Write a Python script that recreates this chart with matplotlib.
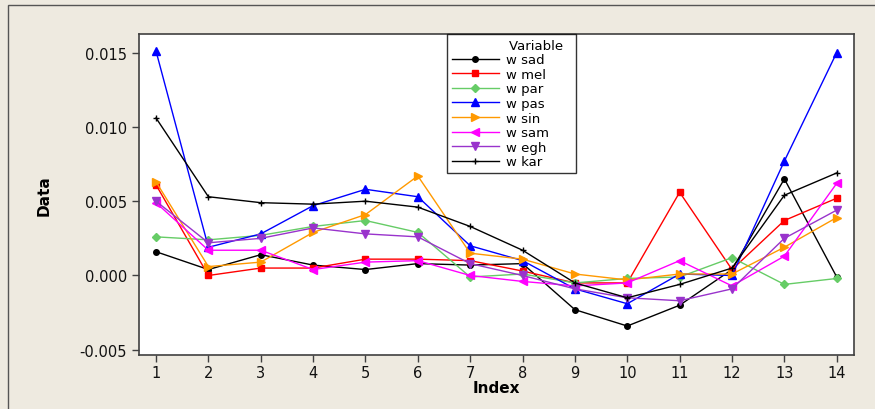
import numpy as np
import matplotlib
matplotlib.use("Agg")
import matplotlib.pyplot as plt
from matplotlib.patches import Rectangle

# ==============================
# DATA
# ==============================
index = list(range(1, 15))

w_sad = [0.0016, 0.0004, 0.0014, 0.0007, 0.0004, 0.0008, 0.0007,
         0.0008, -0.0023, -0.0034, -0.0020, 0.0004, 0.0065, -0.0001]
w_mel = [0.0061, 0.0000, 0.0005, 0.0005, 0.0011, 0.0011, 0.0010,
         0.0003, -0.0005, -0.0005, 0.0056, 0.0004, 0.0037, 0.0052]
w_par = [0.0026, 0.0024, 0.0027, 0.0033, 0.0037, 0.0029, -0.0001,
         0.0001, -0.0005, -0.0002, -0.0001, 0.0012, -0.0006, -0.0002]
w_pas = [0.0151, 0.0019, 0.0028, 0.0047, 0.0058, 0.0053, 0.0020,
         0.0010, -0.0009, -0.0019, 0.0001, 0.0000, 0.0077, 0.0150]
w_sin = [0.0063, 0.0006, 0.0009, 0.0029, 0.0041, 0.0067, 0.0015,
         0.0011, 0.0001, -0.0003, 0.0001, 0.0001, 0.0019, 0.0039]
w_sam = [0.0049, 0.0017, 0.0017, 0.0004, 0.0009, 0.0010, 0.0000,
         -0.0004, -0.0007, -0.0005, 0.0010, -0.0007, 0.0013, 0.0062]
w_egh = [0.0050, 0.0022, 0.0025, 0.0032, 0.0028, 0.0026, 0.0008,
         0.0000, -0.0009, -0.0015, -0.0017, -0.0009, 0.0025, 0.0044]
w_kar = [0.0106, 0.0053, 0.0049, 0.0048, 0.0050, 0.0046, 0.0033,
         0.0017, -0.0005, -0.0015, -0.0006, 0.0005, 0.0054, 0.0069]

series_names = ["w sad", "w mel", "w par", "w pas", "w sin", "w sam", "w egh", "w kar"]
series_data = [w_sad, w_mel, w_par, w_pas, w_sin, w_sam, w_egh, w_kar]

# style per series: (line colour, marker, marker size)
styles = [
    ("#000000", "o", 4),
    ("#FF0000", "s", 5),
    ("#66CC66", "D", 4),
    ("#0000FF", "^", 6),
    ("#FF9900", ">", 6),
    ("#FF00FF", "<", 6),
    ("#9933CC", "v", 6),
    ("#000000", "+", 5),
]

bg = "#EEEAE0"

# ==============================
# PLOT
# ==============================
plt.rcParams["font.family"] = "DejaVu Sans"

fig = plt.figure(figsize=(8.75, 4.1), dpi=100, facecolor=bg)
ax = fig.add_axes([139 / 875, 1 - 356 / 410, (854 - 139) / 875, (356 - 35) / 410])
ax.set_facecolor("white")

# thin frame line on the left and top of the graph region
fig.patches.append(Rectangle((8 / 875, -0.5), 2.0, 1.5 - 6 / 410,
                             transform=fig.transFigure, fill=False,
                             edgecolor="#555555", linewidth=1.0))

for name, vals, (col, mk, ms) in zip(series_names, series_data, styles):
    ax.plot(index, vals, color=col, linewidth=1.0, marker=mk, markersize=ms,
            markerfacecolor=col, markeredgecolor=col, label=name)

ax.set_xlim(0.675, 14.33)
ax.set_ylim(-0.00535, 0.01625)
ax.set_xticks(index)
ax.set_yticks([-0.005, 0.0, 0.005, 0.010, 0.015])
ax.set_yticklabels(["-0.005", "0.000", "0.005", "0.010", "0.015"])

for sp in ax.spines.values():
    sp.set_color("#404040")
    sp.set_linewidth(1.2)
ax.tick_params(direction="out", length=5, width=1, color="#404040",
               labelsize=10.5, labelcolor="#111111")
ax.tick_params(axis="x", pad=2)

ax.set_xlabel("Index", fontsize=11, fontweight="bold", labelpad=0)
ax.set_ylabel("Data", fontsize=11, fontweight="bold", labelpad=20)

# legend box spanning a fixed width, title pushed to the right
leg_x0, leg_top, leg_w = 447 / 875, 1 - 35 / 410, 129 / 875
leg = ax.legend(title="Variable  ", loc="upper left",
                bbox_to_anchor=(leg_x0, leg_top - 0.01, leg_w, 0.01),
                bbox_transform=fig.transFigure, mode="expand",
                fontsize=9.5, title_fontsize=9.5, frameon=True, fancybox=False,
                edgecolor="black", handlelength=3.6, handletextpad=0.5,
                labelspacing=0.12, borderpad=0.35, borderaxespad=0)
leg.get_frame().set_linewidth(1.0)
leg._legend_box.align = "right"

fig.savefig("out.png", dpi=100, facecolor=bg)
